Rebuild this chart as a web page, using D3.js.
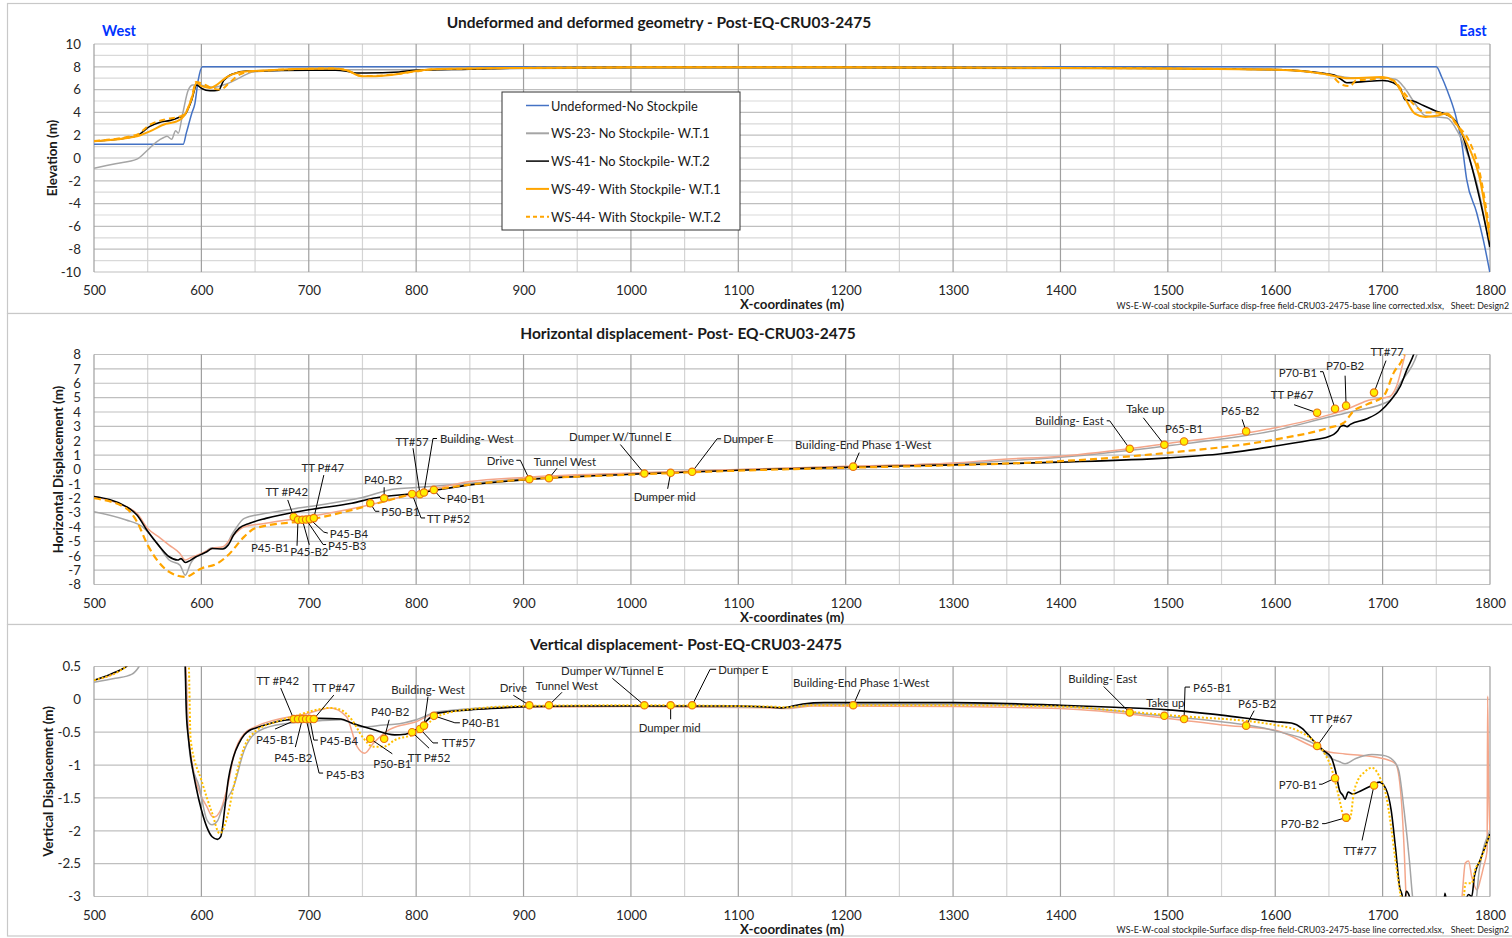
<!DOCTYPE html>
<html>
<head>
<meta charset="utf-8">
<script src="https://cdn.jsdelivr.net/npm/d3@7"></script>
<style>
body { margin: 0; background: #fff; }
svg { font-family: Lato, "Noto Sans", sans-serif; }
</style>
</head>
<body>
<svg width="1512" height="938"></svg>
<script>
var width = 1512;
var height = 938;

// x ticks shared by all three charts
var xTicks = [500, 600, 700, 800, 900, 1000, 1100, 1200, 1300, 1400, 1500, 1600, 1700, 1800];
var xMinor = [550, 650, 750, 850, 950, 1050, 1150, 1250, 1350, 1450, 1550, 1650, 1750];

// --- Elevation (top chart)
var elevTicks = [10, 8, 6, 4, 2, 0, -2, -4, -6, -8, -10];
var elevMinor = [9, 7, 5, 3, 1, -1, -3, -5, -7, -9];

var elevUndeformed = [[500,1.2],[583,1.2],[586,2.2],[591,3.9],[594,4.8],[597,6.8],[601,8.0],[1750,8.0],[1755,7.1],[1760,5.96],[1767.5,3.9],[1773.7,1.3],[1778.3,-1.9],[1787.6,-4.8],[1793.8,-7.2],[1800,-10.1]];
var elevWS23 = [[500,-0.9],[520,-0.5],[540,-0.1],[550,0.7],[558,1.4],[565,1.8],[568,1.9],[572.3,1.64],[576,2.4],[578.5,2.17],[582.6,3.9],[587.8,5.96],[592,6.4],[598.8,6.38],[611,6.2],[623.6,6.5],[636,7.05],[648,7.55],[700,7.75],[800,7.75],[900,7.85],[1000,7.9],[1200,7.9],[1400,7.85],[1500,7.85],[1600,7.75],[1650,7.35],[1670,7.05],[1700,7.05],[1712,6.9],[1720,6.2],[1730,4.8],[1740,3.7],[1760,3.5],[1770,2.3],[1780,0.1],[1790,-3.1],[1800,-8.1]];
var elevWS41 = [[500,1.47],[530,1.75],[540,1.95],[552,2.77],[561,3.12],[571,3.3],[580,3.6],[584.6,3.8],[591,5.1],[595.6,6.4],[600.3,6.1],[608,5.9],[616,5.95],[620.7,6.8],[630,7.4],[642,7.63],[701,7.7],[725,7.7],[735,7.62],[744,7.46],[753.6,7.46],[784,7.55],[800,7.7],[850,7.8],[900,7.9],[1000,7.95],[1200,7.95],[1400,7.9],[1500,7.85],[1600,7.75],[1654,7.3],[1660,7.0],[1666.6,6.6],[1682,6.7],[1700,6.8],[1710,6.6],[1717,6.0],[1721,5.1],[1728.6,5.0],[1738,4.6],[1750,4.1],[1759.7,3.8],[1767.4,3.3],[1773.7,2.2],[1781.4,-0.2],[1790.7,-3.7],[1800,-7.8]];
var elevWS49 = [[500,1.47],[540,1.9],[552,2.34],[567,3.0],[576.7,3.2],[584.6,3.8],[591,5.23],[595.6,6.62],[600.3,6.3],[608,6.15],[614,6.4],[623.6,7.1],[633,7.46],[648.4,7.63],[722.9,7.85],[735.3,7.7],[749.3,7.17],[757,7.17],[785,7.4],[800,7.63],[815.6,7.78],[900,7.9],[1000,7.95],[1200,7.95],[1400,7.9],[1500,7.85],[1600,7.75],[1650,7.3],[1660,7.1],[1666,7.0],[1700,7.1],[1710,6.8],[1720,5.4],[1730,3.9],[1740,3.6],[1750,3.7],[1760,3.9],[1770,2.8],[1780,1.0],[1790,-1.6],[1800,-7.2]];
var elevWS44 = [[500,1.5],[540,2.05],[552,2.92],[567,3.41],[580,3.64],[584.6,3.87],[591,5.3],[595,6.67],[602,6.47],[611,6.1],[617.5,6.0],[627,6.67],[636,7.34],[648,7.6],[722.9,7.85],[735.3,7.7],[749.3,7.2],[757,7.2],[785,7.4],[800,7.6],[815.6,7.78],[900,7.9],[1000,7.95],[1200,7.95],[1400,7.9],[1500,7.85],[1600,7.75],[1650,7.3],[1663,6.4],[1670,6.3],[1675,6.8],[1690,6.9],[1700,7.0],[1710,6.8],[1720,5.7],[1730,4.6],[1740,4.0],[1750,4.0],[1760,3.8],[1770,2.8],[1780,1.6],[1790,-1.1],[1800,-6.6]];

var legendNames = ['Undeformed-No Stockpile', 'WS-23- No Stockpile- W.T.1', 'WS-41- No Stockpile- W.T.2', 'WS-49- With Stockpile- W.T.1', 'WS-44- With Stockpile- W.T.2'];

// --- Horizontal displacement (middle chart)
var horTicks = [8, 7, 6, 5, 4, 3, 2, 1, 0, -1, -2, -3, -4, -5, -6, -7, -8];

var horWS23 = [[500,-2.93],[530,-3.51],[545,-3.98],[560,-5.26],[570,-6.3],[580,-6.65],[585,-7.35],[590,-6.53],[595,-6.07],[600,-5.95],[610,-5.44],[620,-5.49],[630,-4.33],[640,-3.4],[660,-3.05],[700,-2.58],[750,-1.95],[780,-1.35],[800,-1.26],[850,-0.95],[900,-0.65],[1000,-0.28],[1100,-0.02],[1200,0.2],[1300,0.42],[1400,0.85],[1500,1.65],[1600,2.72],[1650,3.65],[1670,4.0],[1707,4.8],[1716,5.95],[1732,8.0],[1736,9]];
var horWS41 = [[500,-1.88],[530,-2.58],[540,-3.16],[550,-4.3],[560,-5.26],[570,-6.07],[578,-6.3],[581,-6.2],[585,-6.47],[595,-6.07],[605,-5.72],[610,-5.5],[620,-5.53],[625,-5.26],[630,-4.56],[635,-4.1],[645,-3.74],[660,-3.4],[700,-2.8],[740,-2.35],[760,-2.0],[800,-1.65],[850,-1.07],[900,-0.72],[1000,-0.33],[1100,-0.05],[1200,0.15],[1300,0.32],[1400,0.51],[1500,0.81],[1550,1.1],[1600,1.63],[1630,2.0],[1650,2.3],[1654.5,2.44],[1658,2.67],[1660.7,2.98],[1663.8,3.07],[1666.9,2.98],[1670,3.14],[1685.5,3.53],[1698,4.07],[1707,4.77],[1716.6,5.81],[1722.8,6.98],[1729,8.02],[1733,9]];
var horWS49 = [[500,-1.88],[530,-2.6],[540,-3.05],[550,-4.1],[560,-4.67],[570,-5.26],[580,-5.84],[585,-6.3],[590,-6.14],[600,-5.84],[610,-5.49],[620,-5.37],[630,-4.56],[640,-3.98],[660,-3.74],[700,-3.28],[750,-2.58],[800,-1.65],[850,-0.84],[900,-0.55],[1000,-0.25],[1100,0.0],[1200,0.22],[1300,0.45],[1344,0.7],[1400,0.93],[1500,1.81],[1600,2.9],[1650,3.8],[1670,4.3],[1685,4.77],[1707,5.1],[1713,5.8],[1721,8.0],[1725,9]];
var horWS44 = [[500,-2.0],[530,-2.7],[540,-3.63],[550,-5.26],[560,-6.42],[570,-7.12],[585,-7.47],[600,-6.88],[615,-6.53],[625,-5.95],[640,-4.67],[650,-4.09],[700,-3.51],[750,-2.63],[800,-1.65],[850,-1.05],[900,-0.7],[1000,-0.36],[1100,-0.08],[1200,0.12],[1300,0.3],[1400,0.58],[1500,1.16],[1600,2.09],[1650,2.9],[1664,3.26],[1673,4.07],[1685.5,4.53],[1701,5.12],[1710.4,6.74],[1720,8.02],[1723,9]];

// --- Vertical displacement (bottom chart)
var verTicks = [0.5, 0, -0.5, -1, -1.5, -2, -2.5, -3];

var verWS23 = [[500,0.26],[520,0.32],[535,0.38],[542,0.5],[548,0.7],[584,0.7],[587,-0.4],[588,-0.62],[590,-0.92],[598,-1.33],[605,-1.83],[610,-1.91],[615,-1.85],[620,-1.63],[630,-1.33],[640,-0.77],[650,-0.52],[670,-0.39],[700,-0.34],[730,-0.31],[750,-0.42],[770,-0.39],[780,-0.38],[800,-0.31],[820,-0.19],[900,-0.11],[1000,-0.1],[1130,-0.12],[1145,-0.13],[1170,-0.08],[1300,-0.08],[1400,-0.11],[1500,-0.26],[1550,-0.34],[1600,-0.48],[1640,-0.72],[1650,-0.88],[1660,-0.95],[1665,-0.98],[1675,-0.9],[1690,-0.84],[1700,-0.85],[1710,-0.93],[1715,-1.08],[1720,-1.69],[1725,-2.46],[1728,-3.02],[1731,-3.3],[1785,-3.3],[1790,-2.6],[1800,-2.0]];
var verWS41 = [[500,0.29],[515,0.38],[530,0.5],[537,0.6],[584,1.0],[586,-0.2],[588,-0.6],[590,-0.87],[595,-1.33],[600,-1.68],[605,-1.94],[610,-2.09],[615,-2.13],[618,-2.09],[622,-1.63],[625,-1.23],[630,-0.87],[635,-0.67],[640,-0.54],[645,-0.47],[650,-0.44],[670,-0.34],[690,-0.3],[710,-0.29],[730,-0.3],[740,-0.36],[760,-0.46],[780,-0.54],[790,-0.53],[800,-0.46],[820,-0.21],[850,-0.16],[880,-0.13],[900,-0.11],[950,-0.1],[1000,-0.1],[1100,-0.1],[1130,-0.12],[1140,-0.13],[1160,-0.07],[1180,-0.05],[1300,-0.05],[1400,-0.09],[1450,-0.12],[1500,-0.16],[1550,-0.24],[1600,-0.34],[1615,-0.36],[1625,-0.44],[1635,-0.62],[1645,-0.78],[1652,-0.88],[1656,-1.08],[1660,-1.39],[1663,-1.46],[1665,-1.52],[1668,-1.41],[1672,-1.44],[1680,-1.39],[1690,-1.31],[1697,-1.26],[1703,-1.36],[1708,-1.69],[1712,-2.26],[1716,-2.87],[1718,-2.97],[1720,-3.2],[1722,-2.92],[1725,-3.0],[1728,-3.3],[1756,-3.3],[1758,-2.95],[1761,-3.2],[1776,-3.1],[1780,-2.97],[1783,-3.0],[1785.6,-2.68],[1790.7,-2.45],[1797,-2.18],[1800,-2.05]];
var verWS49 = [[500,0.29],[530,0.5],[537,0.6],[585,0.6],[588,-0.52],[592,-1.02],[600,-1.48],[605,-1.63],[610,-1.78],[612,-1.79],[618,-1.68],[625,-1.28],[630,-0.87],[640,-0.52],[650,-0.42],[700,-0.21],[720,-0.13],[735,-0.26],[745,-0.72],[752,-0.82],[760,-0.67],[775,-0.46],[800,-0.34],[820,-0.2],[900,-0.12],[1000,-0.11],[1130,-0.13],[1145,-0.14],[1170,-0.1],[1300,-0.11],[1400,-0.14],[1500,-0.29],[1550,-0.39],[1600,-0.47],[1640,-0.75],[1650,-0.8],[1665,-0.83],[1700,-0.9],[1712,-0.98],[1717,-1.44],[1720,-2.26],[1722,-3.05],[1724,-3.3],[1772,-3.3],[1774,-3.0],[1777,-2.49],[1780,-2.46],[1783,-2.7],[1788,-2.9],[1791,-2.75],[1794,-2.55],[1797.3,-2.3],[1797.8,0.05],[1798.6,-1.2],[1800,-2.0]];
var verWS44 = [[500,0.29],[530,0.5],[537,0.6],[588,0.6],[590,-0.62],[600,-1.23],[610,-1.73],[617,-2.04],[625,-1.73],[630,-1.33],[640,-0.72],[650,-0.49],[670,-0.34],[690,-0.24],[700,-0.19],[720,-0.13],[730,-0.16],[740,-0.31],[750,-0.57],[760,-0.72],[770,-0.72],[780,-0.62],[800,-0.52],[820,-0.26],[850,-0.15],[900,-0.1],[1000,-0.09],[1130,-0.11],[1145,-0.12],[1170,-0.09],[1300,-0.09],[1400,-0.11],[1465,-0.19],[1500,-0.24],[1600,-0.39],[1620,-0.47],[1635,-0.62],[1645,-0.8],[1652,-1.03],[1656,-1.26],[1660,-1.54],[1664,-1.8],[1667,-1.85],[1670,-1.8],[1673,-1.44],[1677,-1.23],[1683,-1.11],[1690,-1.04],[1698,-1.21],[1703,-1.44],[1708,-1.95],[1712,-2.46],[1717,-3.02],[1720,-3.3],[1774,-3.3],[1776,-2.95],[1777,-2.8],[1783,-2.8],[1786,-2.6],[1791,-2.45],[1797,-2.18],[1800,-2.05]];

// --- Monitoring points (shared x, one value per chart)
var pointNames = ['TT #P42','P45-B1','P45-B2','P45-B3','P45-B4','TT P#47','P50-B1','P40-B2','TT P#52','TT#57','Building- West','P40-B1','Drive','Tunnel West','Dumper W/Tunnel E','Dumper mid','Dumper E','Building-End Phase 1-West','Building- East','Take up','P65-B1','P65-B2','TT P#67','P70-B1','P70-B2','TT#77'];
var pointX = [686, 690, 694, 697.5, 701, 704.7, 757.3, 770.2, 796.2, 803.6, 807.3, 816.5, 905.4, 923.7, 1012.5, 1037, 1057, 1207, 1464.5, 1496.7, 1515.1, 1572.9, 1639, 1655.7, 1666, 1692];
var pointHor = [-3.3, -3.5, -3.5, -3.48, -3.45, -3.38, -2.35, -2.0, -1.7, -1.72, -1.6, -1.42, -0.68, -0.61, -0.28, -0.23, -0.16, 0.2, 1.44, 1.72, 1.95, 2.65, 3.95, 4.23, 4.44, 5.35];
var pointVer = [-0.3, -0.3, -0.3, -0.3, -0.3, -0.3, -0.6, -0.6, -0.5, -0.45, -0.4, -0.25, -0.09, -0.09, -0.09, -0.09, -0.09, -0.09, -0.2, -0.25, -0.3, -0.4, -0.71, -1.2, -1.8, -1.31];

// label placement (pixel offsets from each point): text offset, anchor, leader line
var labelsHor = [
  [-7,-25,'middle',[[-6,-17]]], [-28,28,'middle',[[-1,26]]], [7,32,'middle',[[7,25]]], [22,26,'start',[[17,25],[20,25]]],
  [20,14,'start',[[14,13],[18,14]]], [9,-51,'middle',[[10,-43]]], [11,8,'start',[[5,8],[9,8]]], [-1,-19,'middle',[[0,-11]]],
  [15,25,'start',[[9,24],[13,24]]], [-8,-53,'middle',[[-7,-46]]], [16,-54,'start',[[9,-54],[13,-54]]], [13,9,'start',[[7,8],[11,9]]],
  [-29,-19,'middle',[[-9,-19],[-13,-19]]], [16,-17,'middle',[[8,-10]]], [-24,-37,'middle',[[-24,-29]]], [-6,24,'middle',[[-3,16]]],
  [31,-33,'start',[[25,-33],[29,-33]]], [10,-22,'middle',[[6,-14]]], [-26,-28,'end',[[-20,-28],[-23,-28]]], [-19,-36,'middle',[[-21,-27]]],
  [0,-13,'middle',[]], [-6,-21,'middle',[[-4,-12]]], [-25,-18,'middle',[[-23,-8]]], [-18,-36,'end',[[-12,-37],[-15,-37]]],
  [-1,-40,'middle',[[-1,-30]]], [13,-41,'middle',[[12,-32]]]
];
var labelsVer = [
  [-16,-39,'middle',[[-13,-31]]], [-23,20,'middle',[[-23,10]]], [-9,38,'middle',[[-7,28]]], [20,55,'start',[[13,54],[17,54]]],
  [10,21,'start',[[4,21],[8,21]]], [20,-32,'middle',[[20,-24]]], [22,25,'middle',[[22,15]]], [6,-27,'middle',[[5,-19]]],
  [17,25,'middle',[[17,16]]], [22,14,'start',[[13,14],[18,14]]], [4,-36,'middle',[[4,-29]]], [28,7,'start',[[21,7],[26,7]]],
  [-16,-18,'middle',[[-16,-10]]], [18,-20,'middle',[[13,-13]]], [-32,-35,'middle',[[-32,-27]]], [-1,22,'middle',[[0,14]]],
  [26,-36,'start',[[18,-36],[24,-36]]], [8,-23,'middle',[[7,-16]]], [-27,-34,'middle',[[-26,-26]]], [1,-13,'middle',[]],
  [9,-32,'start',[[1,-32],[6,-32]]], [11,-22,'middle',[[8,-15]]], [14,-28,'middle',[[15,-21]]], [-18,6,'end',[[-13,6],[-16,6]]],
  [-27,6,'end',[[-21,6],[-24,6]]], [-14,65,'middle',[[-12,55]]]
];

var svg = d3.select('svg');
var x = d3.scaleLinear().domain([500, 1800]).range([94, 1490]);
var fileNote = 'WS-E-W-coal stockpile-Surface disp-free field-CRU03-2475-base line corrected.xlsx,   Sheet: Design2';

function drawPanel(p) {
  var g = svg.append('g');
  var y = d3.scaleLinear().domain(p.yDomain).range(p.yRange);

  g.append('rect')
    .attr('x', 7.5).attr('y', p.frame[0])
    .attr('width', 1520).attr('height', p.frame[1] - p.frame[0])
    .attr('fill', '#fff').attr('stroke', '#c8c8c8').attr('stroke-width', 1.2);

  // gridlines
  g.selectAll('.hmin').data(p.yMinor || []).enter().append('line')
    .attr('x1', x(500)).attr('x2', x(1800))
    .attr('y1', y).attr('y2', y)
    .attr('stroke', '#d9d9d9').attr('stroke-width', 1.2);
  g.selectAll('.vmin').data(xMinor).enter().append('line')
    .attr('x1', x).attr('x2', x)
    .attr('y1', p.yRange[1]).attr('y2', p.yRange[0])
    .attr('stroke', '#d4d4d4').attr('stroke-width', 1.2);
  g.selectAll('.hmaj').data(p.yTicks).enter().append('line')
    .attr('x1', x(500)).attr('x2', x(1800))
    .attr('y1', y).attr('y2', y)
    .attr('stroke', '#bfbfbf').attr('stroke-width', 1.2);
  g.selectAll('.vmaj').data(xTicks).enter().append('line')
    .attr('x1', x).attr('x2', x)
    .attr('y1', p.yRange[1]).attr('y2', p.yRange[0])
    .attr('stroke', '#9f9f9f').attr('stroke-width', 1.2);

  // axes (labels only, Excel style)
  var ay = g.append('g').attr('transform', 'translate(' + x(500) + ',0)')
    .call(d3.axisLeft(y).tickValues(p.yTicks).tickSize(0).tickPadding(13).tickFormat(function (d) { return String(d); }));
  var ax = g.append('g').attr('transform', 'translate(0,' + p.yRange[0] + ')')
    .call(d3.axisBottom(x).tickValues(xTicks).tickSize(0).tickPadding(14).tickFormat(function (d) { return String(d); }));
  [ay, ax].forEach(function (a) {
    a.select('.domain').remove();
    a.selectAll('text').attr('font-size', 13.3).attr('fill', '#262626').attr('font-family', 'Lato, sans-serif');
  });

  g.append('text').attr('x', p.titleX).attr('y', p.titleY)
    .attr('text-anchor', 'middle').attr('font-weight', 'bold').attr('font-size', 15.5).attr('fill', '#1a1a1a')
    .text(p.title);
  g.append('text')
    .attr('transform', 'translate(' + p.yTitleX + ',' + ((p.yRange[0] + p.yRange[1]) / 2) + ') rotate(-90)')
    .attr('text-anchor', 'middle').attr('dominant-baseline', 'central')
    .attr('font-weight', 'bold').attr('font-size', 13.3).attr('fill', '#1a1a1a')
    .text(p.yTitle);
  g.append('text').attr('x', 792).attr('y', p.yRange[0] + 32)
    .attr('dominant-baseline', 'central')
    .attr('text-anchor', 'middle').attr('font-weight', 'bold').attr('font-size', 13.3).attr('fill', '#1a1a1a')
    .text('X-coordinates (m)');
  if (p.note) {
    g.append('text').attr('x', 1509).attr('y', p.yRange[0] + 33)
      .attr('dominant-baseline', 'central')
      .attr('text-anchor', 'end').attr('font-size', 8.8).attr('fill', '#1a1a1a')
      .style('white-space', 'pre')
      .text(fileNote);
  }

  var clipId = 'clip' + p.id;
  g.append('clipPath').attr('id', clipId).append('rect')
    .attr('x', x(500)).attr('y', p.yRange[1])
    .attr('width', x(1800) - x(500)).attr('height', p.yRange[0] - p.yRange[1]);

  var line = d3.line()
    .x(function (d) { return x(d[0]); })
    .y(function (d) { return y(d[1]); })
    .curve(d3.curveMonotoneX);

  var lines = g.append('g').attr('clip-path', 'url(#' + clipId + ')');
  p.series.forEach(function (s) {
    lines.append('path').datum(s.data)
      .attr('d', line)
      .attr('fill', 'none')
      .attr('stroke', s.color)
      .attr('stroke-width', s.width)
      .attr('stroke-dasharray', s.dash || null)
      .attr('stroke-linejoin', 'round');
  });

  if (p.points) {
    var pts = pointX.map(function (px, i) { return { name: pointNames[i], x: px, y: p.points[i], lab: p.labels[i] }; });
    var lab = g.append('g');
    pts.forEach(function (d) {
      var cx = x(d.x), cy = y(d.y);
      if (d.lab[3].length) {
        var path = 'M' + cx + ',' + cy + d.lab[3].map(function (q) { return 'L' + (cx + q[0]) + ',' + (cy + q[1]); }).join('');
        lab.append('path').attr('d', path).attr('fill', 'none').attr('stroke', '#000').attr('stroke-width', 1);
      }
      lab.append('text')
        .attr('x', cx + d.lab[0]).attr('y', cy + d.lab[1])
        .attr('text-anchor', d.lab[2]).attr('dominant-baseline', 'central')
        .attr('font-size', 11.4).attr('fill', '#262626')
        .text(d.name);
    });
    g.selectAll('.pt').data(pts).enter().append('circle')
      .attr('cx', function (d) { return x(d.x); })
      .attr('cy', function (d) { return y(d.y); })
      .attr('r', 3.7)
      .attr('fill', '#ffee00')
      .attr('stroke', '#ec7410')
      .attr('stroke-width', 1.2);
  }
  return g;
}

// top: geometry
var topPanel = drawPanel({
  id: 1, frame: [3.5, 313.5],
  yDomain: [-10, 10], yRange: [272, 44],
  yTicks: elevTicks, yMinor: elevMinor,
  title: 'Undeformed and deformed geometry - Post-EQ-CRU03-2475', titleX: 659, titleY: 28,
  yTitle: 'Elevation (m)', yTitleX: 52, note: true,
  series: [
    { data: elevUndeformed, color: '#4472c4', width: 1.5 },
    { data: elevWS23, color: '#a5a5a5', width: 1.5 },
    { data: elevWS41, color: '#000', width: 1.6 },
    { data: elevWS49, color: '#ffa500', width: 2 },
    { data: elevWS44, color: '#ffa500', width: 2, dash: '6,4' }
  ]
});

topPanel.append('text').attr('x', 119).attr('y', 36).attr('text-anchor', 'middle')
  .attr('font-weight', 'bold').attr('font-size', 14.5).attr('fill', '#0033ff').text('West');
topPanel.append('text').attr('x', 1473).attr('y', 36).attr('text-anchor', 'middle')
  .attr('font-weight', 'bold').attr('font-size', 14.5).attr('fill', '#0033ff').text('East');

// legend
var legendStyles = [
  { color: '#4472c4', width: 1.5 },
  { color: '#a5a5a5', width: 2 },
  { color: '#000', width: 1.5 },
  { color: '#ffa500', width: 2 },
  { color: '#ffa500', width: 2, dash: '4,3' }
];
var legend = topPanel.append('g').attr('transform', 'translate(502,92)');
legend.append('rect').attr('width', 238).attr('height', 138)
  .attr('fill', '#fff').attr('stroke', '#333').attr('stroke-width', 1);
legendNames.forEach(function (name, i) {
  var ly = 13.5 + i * 27.8;
  legend.append('line').attr('x1', 24).attr('x2', 47).attr('y1', ly).attr('y2', ly)
    .attr('stroke', legendStyles[i].color).attr('stroke-width', legendStyles[i].width)
    .attr('stroke-dasharray', legendStyles[i].dash || null);
  legend.append('text').attr('x', 49).attr('y', ly).attr('dominant-baseline', 'central')
    .attr('font-size', 12.8).attr('fill', '#1a1a1a').text(name);
});

// middle: horizontal displacement
drawPanel({
  id: 2, frame: [313.5, 624.5],
  yDomain: [-8, 8], yRange: [584.5, 354.5],
  yTicks: horTicks,
  title: 'Horizontal displacement- Post- EQ-CRU03-2475', titleX: 688, titleY: 339,
  yTitle: 'Horizontal Displacement (m)', yTitleX: 58, note: false,
  series: [
    { data: horWS23, color: '#a5a5a5', width: 1.5 },
    { data: horWS49, color: '#f4a68a', width: 1.5 },
    { data: horWS41, color: '#000', width: 1.6 },
    { data: horWS44, color: '#ffa500', width: 2.2, dash: '7,4' }
  ],
  points: pointHor, labels: labelsHor
});

// bottom: vertical displacement
drawPanel({
  id: 3, frame: [624.5, 936],
  yDomain: [-3, 0.5], yRange: [896.5, 666.5],
  yTicks: verTicks,
  title: 'Vertical displacement-  Post-EQ-CRU03-2475', titleX: 686, titleY: 650,
  yTitle: 'Vertical Displacement (m)', yTitleX: 48, note: true,
  series: [
    { data: verWS49, color: '#f4a68a', width: 1.5 },
    { data: verWS23, color: '#a5a5a5', width: 1.5 },
    { data: verWS41, color: '#000', width: 1.6 },
    { data: verWS44, color: '#ffc000', width: 2, dash: '2,2' }
  ],
  points: pointVer, labels: labelsVer
});
</script>
</body>
</html>
